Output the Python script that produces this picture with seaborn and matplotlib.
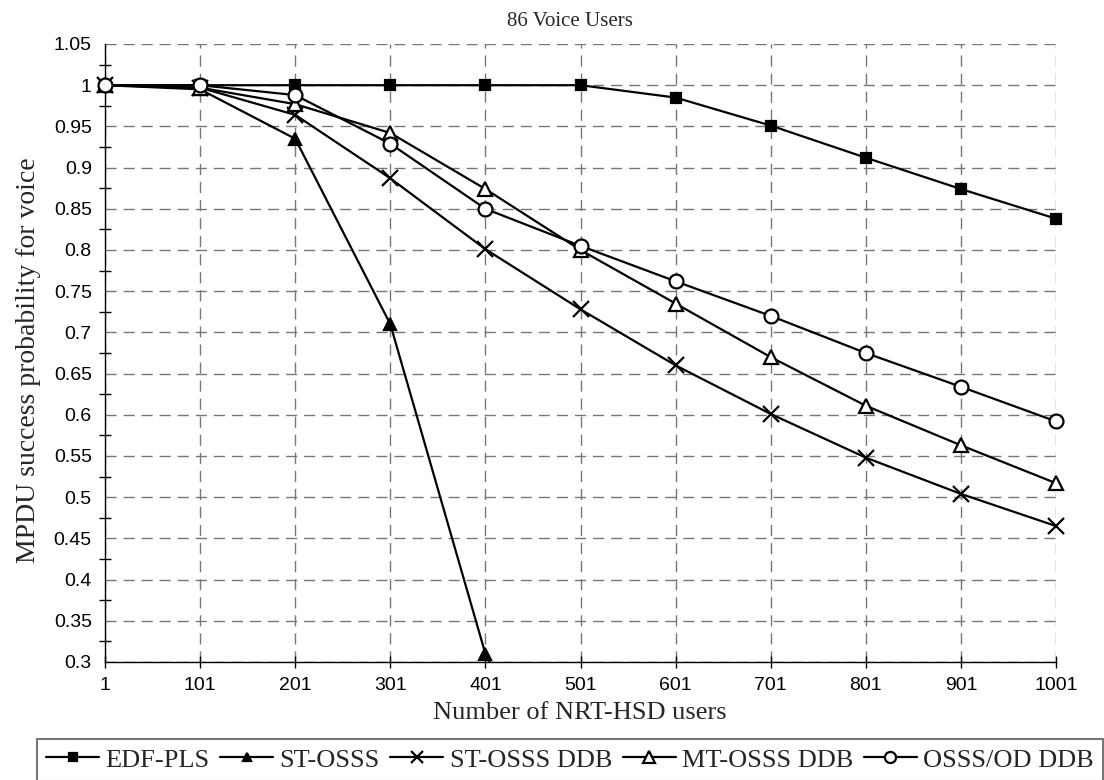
import numpy as np
import pandas as pd
import seaborn as sns
import matplotlib.pyplot as plt
from matplotlib.ticker import MultipleLocator, FuncFormatter

# valores
usuarios_nrt = [1, 101, 201, 301, 401, 501, 601, 701, 801, 901, 1001]
edf_pls = [1.0, 1.0, 1.0, 1.0, 1.0, 1.0, 0.985, 0.951, 0.912, 0.874, 0.838]
st_osss = [1.0, 0.995, 0.935, 0.710, 0.310, 0.080, np.nan, np.nan, np.nan, np.nan, np.nan]
st_osss_ddb = [1.0, 0.997, 0.964, 0.887, 0.801, 0.728, 0.660, 0.601, 0.548, 0.504, 0.465]
mt_osss_ddb = [1.0, 0.997, 0.977, 0.942, 0.874, 0.800, 0.735, 0.670, 0.611, 0.563, 0.517]
osss_od_ddb = [1.0, 1.0, 0.988, 0.929, 0.850, 0.805, 0.762, 0.720, 0.675, 0.634, 0.592]

series = ["EDF-PLS", "ST-OSSS", "ST-OSSS DDB", "MT-OSSS DDB", "OSSS/OD DDB"]
valores = [edf_pls, st_osss, st_osss_ddb, mt_osss_ddb, osss_od_ddb]
marcadores = ["s", "^", "x", "^", "o"]
rellenos = ["black", "black", "black", "white", "white"]
tamanos = [7, 8, 11, 10, 10]

sns.set_theme(style="white")
plt.rcParams["font.family"] = ["Liberation Sans", "DejaVu Sans"]
SERIF = ["Liberation Serif", "DejaVu Serif"]

fig = plt.figure(figsize=(11.04, 7.8), dpi=100)
ax = fig.add_axes([105 / 1104, 1 - 662 / 780, (1056 - 105) / 1104, (662 - 44) / 780])

for nombre, ys, m, fc, ms in zip(series, valores, marcadores, rellenos, tamanos):
    df = pd.DataFrame({"x": usuarios_nrt, "y": ys})
    sns.lineplot(data=df, x="x", y="y", ax=ax, color="black", linewidth=1.6,
                 marker=m, markersize=ms, markerfacecolor=fc, markeredgecolor="black",
                 markeredgewidth=1.6, label=nombre, legend=False,
                 clip_on=(nombre == "ST-OSSS"), zorder=3)

ax.set_xlim(1, 1001)
ax.set_ylim(0.3, 1.05)
ax.set_xticks(usuarios_nrt)
ax.yaxis.set_major_locator(MultipleLocator(0.05))
ax.yaxis.set_minor_locator(MultipleLocator(0.025))
ax.yaxis.set_major_formatter(FuncFormatter(lambda v, p: f"{v:g}"))
ax.tick_params(axis="both", which="both", direction="inout", colors="black",
               labelsize=14, width=1)
ax.tick_params(axis="both", which="major", length=9)
ax.tick_params(axis="y", which="minor", length=9, left=True)
ax.tick_params(axis="y", pad=5)
ax.tick_params(axis="x", pad=6, bottom=True)

ax.grid(True, which="major", color="#777777", linestyle=(0, (8, 5)), linewidth=1)
for lado in ["top", "right"]:
    ax.spines[lado].set_visible(False)
for lado in ["left", "bottom"]:
    ax.spines[lado].set_color("black")
    ax.spines[lado].set_linewidth(1)

ax.set_xlabel("")
ax.set_ylabel("")
fig.text(580 / 1104, 1 - 713 / 780, "Number of NRT-HSD users", family=SERIF,
         fontsize=19, ha="center", va="center")
fig.text(29 / 1104, 1 - 360 / 780, "MPDU success probability for voice", family=SERIF,
         fontsize=20, ha="center", va="center", rotation=90)
fig.text(570 / 1104, 1 - 22 / 780, "86 Voice Users", family=SERIF,
         fontsize=15, ha="center", va="center")

handles, labels = ax.get_legend_handles_labels()
leg = fig.legend(handles, labels, loc="upper left", bbox_to_anchor=(37 / 1104, 1 - 739 / 780),
                 ncol=5, frameon=True, fancybox=False, prop={"family": SERIF, "size": 19},
                 handlelength=2.0, handletextpad=0.25, columnspacing=0.4,
                 borderpad=0.35, borderaxespad=0, markerscale=0.8)
leg.get_frame().set_edgecolor("#555555")
leg.get_frame().set_linewidth(1.5)

fig.savefig("out.png", dpi=100)
